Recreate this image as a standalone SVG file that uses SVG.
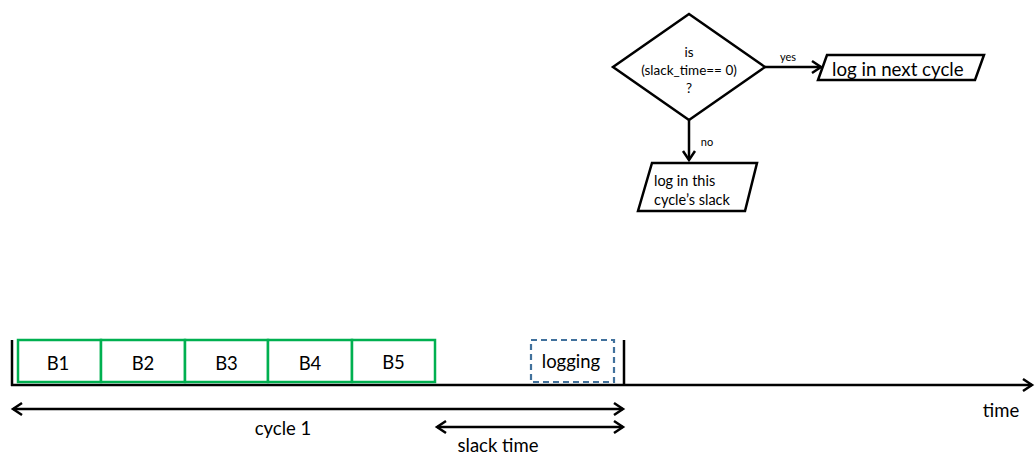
<svg xmlns="http://www.w3.org/2000/svg" width="1035" height="455" viewBox="0 0 1035 455">
  <style>
    .ln { stroke: #000; stroke-width: 2.5; fill: none; }
    .shape { stroke: #000; stroke-width: 2.5; fill: #fff; }
    .blk { stroke: #00B050; stroke-width: 2.5; fill: #fff; }
    .dash { stroke: #41719C; stroke-width: 2.2; fill: #fff; stroke-dasharray: 6 4; }
    text { font-family: "Lato", "Liberation Sans", sans-serif; fill: #000; }
    .c { text-anchor: middle; }
    .lbl { font-size: 18.5px; }
  </style>
  <defs>
    <marker id="arrow" markerUnits="userSpaceOnUse" markerWidth="16" markerHeight="16" refX="12" refY="8" orient="auto-start-reverse" viewBox="0 0 16 16">
      <path d="M3,2 L12,8 L3,14" fill="none" stroke="#000" stroke-width="2.5"/>
    </marker>
  </defs>

  <!-- connectors -->
  <g id="connectors">
    <line class="ln" x1="765" y1="67" x2="821" y2="67" marker-end="url(#arrow)"/>
    <text x="788" y="61" class="c" font-size="11">yes</text>
    <line class="ln" x1="689" y1="120" x2="689" y2="160" marker-end="url(#arrow)"/>
    <text x="707" y="146" class="c" font-size="11">no</text>
  </g>

  <!-- decision -->
  <g id="decision">
    <polygon class="shape" points="689,14 765,67 689,120 613,67"/>
    <text x="689" y="57" class="c" font-size="13.5">is</text>
    <text x="689" y="75" class="c" font-size="13.5">(slack_time== 0)</text>
    <text x="689" y="93" class="c" font-size="13.5">?</text>
  </g>

  <!-- next cycle output -->
  <g id="next-cycle">
    <polygon class="shape" points="827,55 984,55 975,80 818,80"/>
    <text x="832" y="76" font-size="18.7">log in next cycle</text>
  </g>

  <!-- this cycle output -->
  <g id="this-cycle">
    <polygon class="shape" points="652,163 757,163 745,211 638,211"/>
    <text x="654" y="186" font-size="14.5">log in this</text>
    <text x="654" y="205" font-size="14.5">cycle’s slack</text>
  </g>

  <!-- timeline -->
  <g id="timeline">
    <line class="ln" x1="12" y1="340" x2="12" y2="386"/>
    <line class="ln" x1="624" y1="340" x2="624" y2="386"/>
    <line class="ln" x1="11" y1="385" x2="1032" y2="385" marker-end="url(#arrow)"/>
    <text x="1001" y="417" class="c lbl">time</text>
  </g>

  <!-- blocks -->
  <g id="b1"><rect class="blk" x="18" y="340" width="83" height="42"/><text x="58" y="370" class="c lbl">B1</text></g>
  <g id="b2"><rect class="blk" x="101" y="340" width="84" height="42"/><text x="143" y="370" class="c lbl">B2</text></g>
  <g id="b3"><rect class="blk" x="185" y="340" width="83" height="42"/><text x="226.5" y="370" class="c lbl">B3</text></g>
  <g id="b4"><rect class="blk" x="268" y="340" width="84" height="42"/><text x="310" y="370" class="c lbl">B4</text></g>
  <g id="b5"><rect class="blk" x="352" y="340" width="83" height="42"/><text x="393.5" y="369" class="c lbl">B5</text></g>

  <!-- logging slot -->
  <g id="logging">
    <rect class="dash" x="531" y="340" width="83" height="42"/>
    <text x="571" y="368" class="c lbl">logging</text>
  </g>

  <!-- spans -->
  <g id="spans">
    <line class="ln" x1="13" y1="409" x2="623" y2="409" marker-start="url(#arrow)" marker-end="url(#arrow)"/>
    <text x="283" y="435" class="c lbl">cycle 1</text>
    <line class="ln" x1="437" y1="427" x2="623" y2="427" marker-start="url(#arrow)" marker-end="url(#arrow)"/>
    <text x="498" y="452" class="c lbl">slack time</text>
  </g>
</svg>
